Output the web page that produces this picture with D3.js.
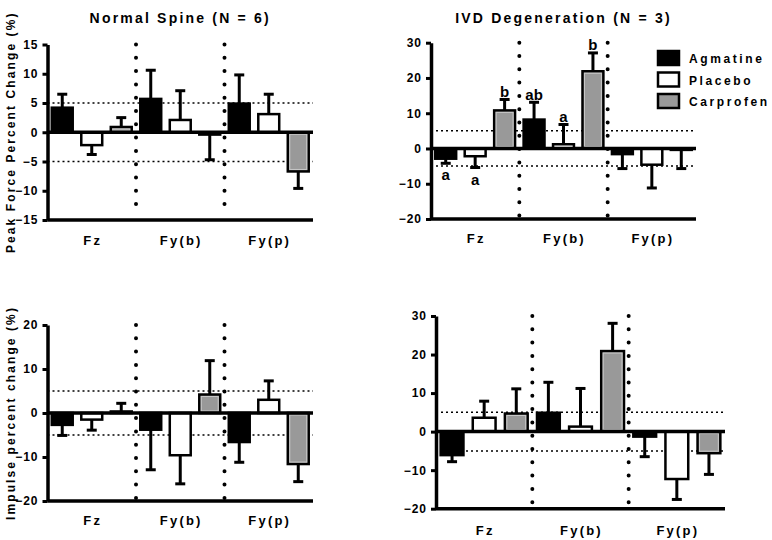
<!DOCTYPE html>
<html lang="en"><head>
<meta charset="UTF-8">
<title>Percent change</title>
<script src="https://cdn.jsdelivr.net/npm/d3@7"></script>
<style>
body { margin: 0; background: #fff; }
text { font-family: "Liberation Sans", Arial, sans-serif; font-weight: bold; fill: #000; }
</style>
</head>
<body>
<script>

var width = 772;
var height = 540;

var groups = ["Fz", "Fy(b)", "Fy(p)"];
var treatments = ["Agmatine", "Placebo", "Carprofen"];
var fills = {"Agmatine": "#000", "Placebo": "#fff", "Carprofen": "#999"};

// means per group: [Agmatine, Placebo, Carprofen]
var peakNormalMean = [[4.2, -2.2, 0.9], [5.7, 2.1, -0.4], [4.9, 3.1, -6.7]];
var peakNormalErr  = [[2.3, 1.6, 1.6], [4.9, 5.0, 4.3], [4.9, 3.4, 2.9]];

var peakIvdMean = [[-2.9, -2.2, 10.8], [8.2, 1.2, 21.9], [-1.6, -4.6, -0.4]];
var peakIvdErr  = [[1.3, 3.2, 3.1], [4.9, 5.6, 5.2], [4.1, 6.6, 5.3]];
var peakIvdLetters = [["a", "a", "b"], ["ab", "a", "b"], ["", "", ""]];

var impNormalMean = [[-2.7, -1.5, 0.35], [-3.8, -9.6, 4.2], [-6.6, 3.0, -11.6]];
var impNormalErr  = [[2.4, 2.4, 1.85], [9.1, 6.5, 7.7], [4.6, 4.3, 4.0]];

var impIvdMean = [[-6.1, 3.6, 4.7], [4.9, 1.3, 20.9], [-1.3, -12.3, -5.6]];
var impIvdErr  = [[1.7, 4.3, 6.4], [7.9, 9.9, 7.2], [5.2, 5.3, 5.5]];

var peakNormalTicks = [-15, -10, -5, 0, 5, 10, 15];
var peakIvdTicks = [-20, -10, 0, 10, 20, 30];
var impNormalTicks = [-20, -10, 0, 10, 20];
var impIvdTicks = [-20, -10, 0, 10, 20, 30];

var thresholds = [-5, 5];

var svg = d3.select("body").append("svg")
            .attr("width", width)
            .attr("height", height);

var panels = [
  {means: peakNormalMean, errs: peakNormalErr, ticks: peakNormalTicks,
   x0: 47.5, x1: 313, y0: 220, y1: 44.5, labelY: 245,
   title: "Normal Spine (N = 6)", ylabel: "Peak Force Percent Change (%)"},
  {means: peakIvdMean, errs: peakIvdErr, ticks: peakIvdTicks, letters: peakIvdLetters,
   x0: 431, x1: 696, y0: 219, y1: 42.7, labelY: 243,
   title: "IVD Degeneration (N = 3)", legend: true},
  {means: impNormalMean, errs: impNormalErr, ticks: impNormalTicks,
   x0: 47.5, x1: 313, y0: 501, y1: 325, labelY: 525,
   ylabel: "Impulse percent change (%)"},
  {means: impIvdMean, errs: impIvdErr, ticks: impIvdTicks,
   x0: 436, x1: 725, y0: 508.7, y1: 316, labelY: 535}
];

panels.forEach(drawPanel);

function drawPanel(p) {
  var g = svg.append("g");

  var y = d3.scaleLinear()
            .domain(d3.extent(p.ticks))
            .range([p.y0, p.y1]);

  var xGroup = d3.scaleBand()
                 .domain(groups)
                 .range([p.x0, p.x1])
                 .paddingInner(0).paddingOuter(0);

  var xBar = d3.scaleBand()
               .domain(treatments)
               .range([0, xGroup.bandwidth()])
               .paddingInner(0.29).paddingOuter(0.145);

  // dotted threshold lines at +/-5
  g.selectAll(".thr")
    .data(thresholds).enter()
    .append("line")
    .attr("x1", p.x0).attr("x2", p.x1)
    .attr("y1", (d) => y(d)).attr("y2", (d) => y(d))
    .attr("stroke", "#000")
    .attr("stroke-width", 1.5)
    .attr("stroke-dasharray", "2,3");

  // dotted separators between groups
  g.selectAll(".sep")
    .data(groups.slice(1)).enter()
    .append("line")
    .attr("x1", (d) => xGroup(d)).attr("x2", (d) => xGroup(d))
    .attr("y1", p.y1).attr("y2", p.y0 - 3)
    .attr("stroke", "#000")
    .attr("stroke-width", 4)
    .attr("stroke-linecap", "round")
    .attr("stroke-dasharray", "0,13.3");

  var bars = [];
  groups.forEach(function(gr, i) {
    treatments.forEach(function(t, j) {
      bars.push({group: gr, treat: t, mean: p.means[i][j], err: p.errs[i][j],
                 letter: p.letters ? p.letters[i][j] : ""});
    });
  });

  var bx = (d) => xGroup(d.group) + xBar(d.treat);
  var bw = xBar.bandwidth();
  var tip = (d) => d.mean >= 0 ? d.mean + d.err : d.mean - d.err;

  // error bars (one-sided)
  var eb = g.selectAll(".err").data(bars).enter().append("g");
  eb.append("line")
    .attr("x1", (d) => bx(d) + bw / 2).attr("x2", (d) => bx(d) + bw / 2)
    .attr("y1", (d) => y(d.mean)).attr("y2", (d) => y(tip(d)))
    .attr("stroke", "#000").attr("stroke-width", 3);
  eb.append("line")
    .attr("x1", (d) => bx(d) + bw / 2 - 5).attr("x2", (d) => bx(d) + bw / 2 + 5)
    .attr("y1", (d) => y(tip(d))).attr("y2", (d) => y(tip(d)))
    .attr("stroke", "#000").attr("stroke-width", 3);

  g.selectAll(".bar")
    .data(bars).enter()
    .append("rect")
    .attr("x", bx)
    .attr("width", bw)
    .attr("y", (d) => y(Math.max(0, d.mean)))
    .attr("height", (d) => Math.abs(y(d.mean) - y(0)))
    .attr("fill", (d) => fills[d.treat])
    .attr("stroke", "#000")
    .attr("stroke-width", 2.5);

  // light inner rim on grey bars
  g.selectAll(".rim")
    .data(bars.filter((d) => d.treat === "Carprofen" && Math.abs(y(d.mean) - y(0)) > 4)).enter()
    .append("rect")
    .attr("x", (d) => bx(d) + 2)
    .attr("width", bw - 4)
    .attr("y", (d) => y(Math.max(0, d.mean)) + 2)
    .attr("height", (d) => Math.abs(y(d.mean) - y(0)) - 4)
    .attr("fill", "none")
    .attr("stroke", "#c8c8c8")
    .attr("stroke-width", 1);

  // significance letters
  g.selectAll(".letter")
    .data(bars.filter((d) => d.letter)).enter()
    .append("text")
    .attr("x", (d) => bx(d) + bw / 2)
    .attr("y", (d) => d.mean >= 0 ? y(tip(d)) - 2.5 : y(tip(d)) + 17)
    .attr("text-anchor", "middle")
    .attr("font-size", 15)
    .text((d) => d.letter);

  // zero line and bottom axis
  g.append("line")
    .attr("x1", p.x0).attr("x2", p.x1)
    .attr("y1", y(0)).attr("y2", y(0))
    .attr("stroke", "#000").attr("stroke-width", 3.5);
  g.append("line")
    .attr("x1", p.x0).attr("x2", p.x1)
    .attr("y1", p.y0).attr("y2", p.y0)
    .attr("stroke", "#000").attr("stroke-width", 3.5);

  var yAxis = g.append("g")
    .attr("transform", `translate(${p.x0},0)`)
    .call(d3.axisLeft(y).tickValues(p.ticks).tickSize(5).tickSizeOuter(0).tickPadding(4));
  yAxis.select(".domain").attr("stroke-width", 3.5);
  yAxis.selectAll(".tick line").attr("stroke-width", 3);
  yAxis.selectAll(".tick text")
    .attr("font-size", 12)
    .attr("font-family", null)
    .attr("letter-spacing", 1);

  // group labels
  g.selectAll(".glabel")
    .data(groups).enter()
    .append("text")
    .attr("x", (d) => xGroup(d) + xGroup.bandwidth() / 2 + 1)
    .attr("y", p.labelY)
    .attr("text-anchor", "middle")
    .attr("font-size", 13)
    .attr("letter-spacing", 2.2)
    .text((d) => d);

  if (p.title) {
    g.append("text")
      .attr("x", (p.x0 + p.x1) / 2)
      .attr("y", 23)
      .attr("text-anchor", "middle")
      .attr("font-size", 14)
      .attr("letter-spacing", 2.2)
      .text(p.title);
  }

  if (p.ylabel) {
    g.append("text")
      .attr("transform", `translate(15,${(p.y0 + p.y1) / 2}) rotate(-90)`)
      .attr("text-anchor", "middle")
      .attr("font-size", 12)
      .attr("letter-spacing", 2.1)
      .text(p.ylabel);
  }

  if (p.legend) {
    var lg = g.selectAll(".legend")
      .data(treatments).enter()
      .append("g")
      .attr("transform", (d, i) => `translate(658,${51 + i * 21.5})`);
    lg.append("rect")
      .attr("width", 21).attr("height", 14)
      .attr("fill", (d) => fills[d])
      .attr("stroke", "#000").attr("stroke-width", 2.5);
    lg.append("text")
      .attr("x", 31).attr("y", 12)
      .attr("font-size", 12)
      .attr("letter-spacing", 2.6)
      .text((d) => d);
  }
}

</script>
</body></html>
